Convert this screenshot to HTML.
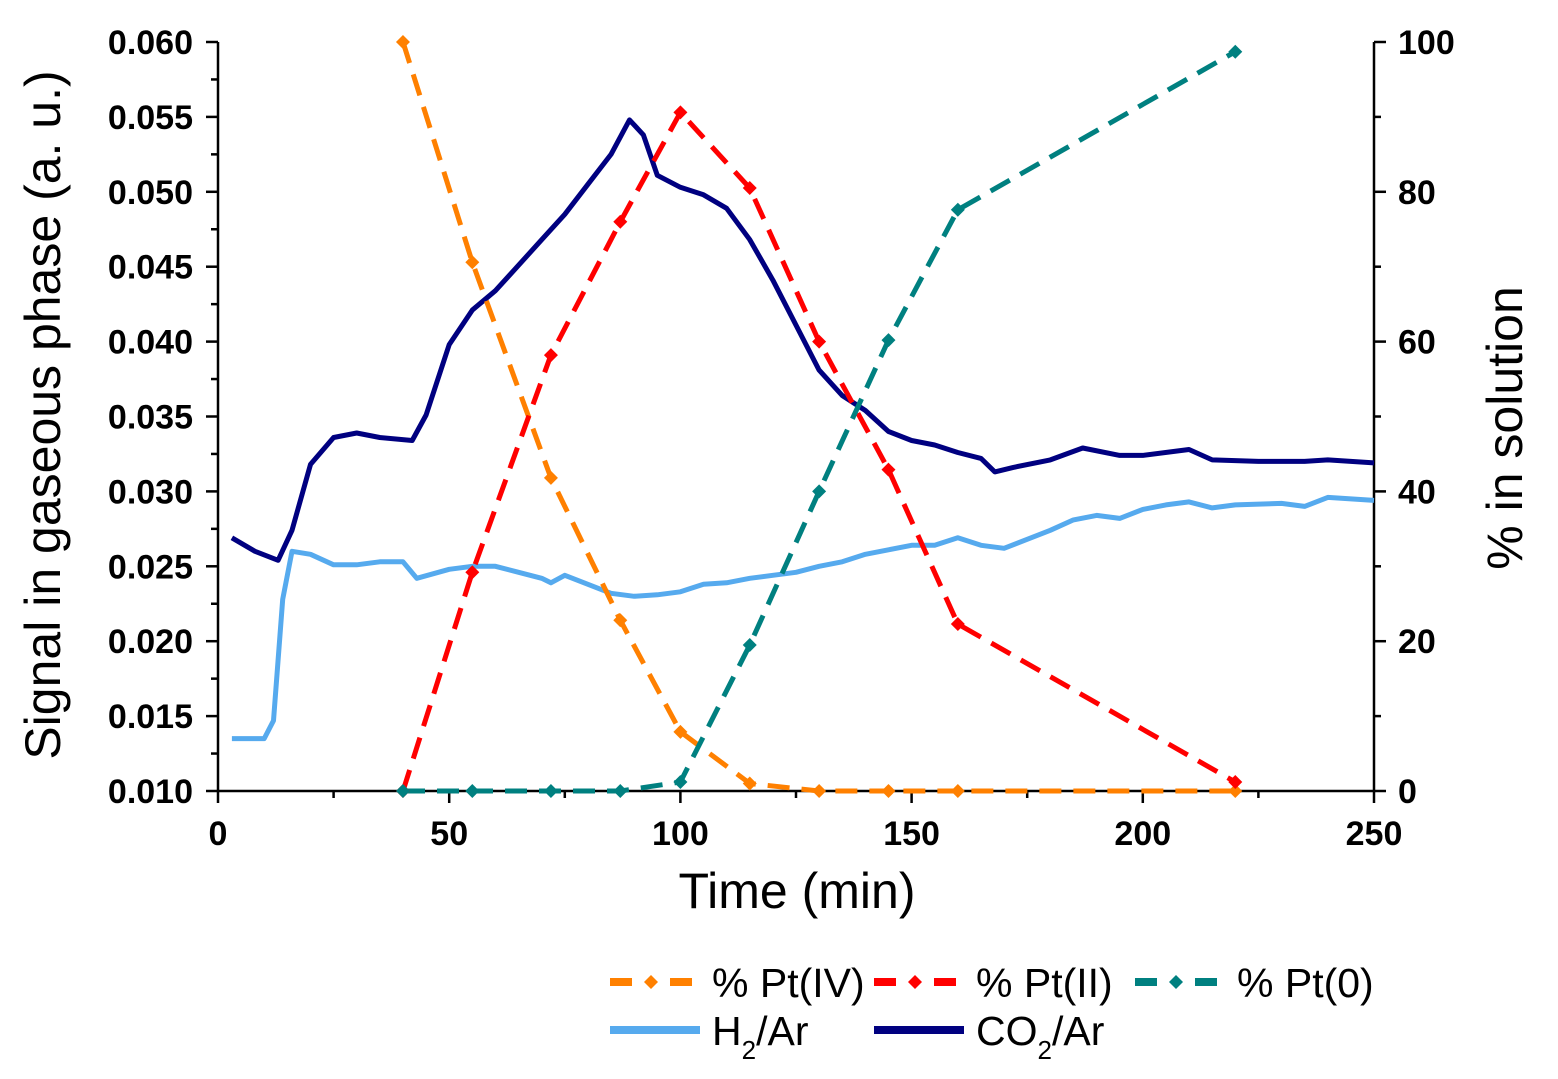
<!DOCTYPE html>
<html><head><meta charset="utf-8"><style>
body{margin:0;background:#fff;}
svg text{font-family:"Liberation Sans",Arial,sans-serif;}
</style></head><body>
<svg id="c" width="1558" height="1074" xmlns="http://www.w3.org/2000/svg"></svg>
<script>
const pctX=[40,55,72,87,100,115,130,145,160,220];
const ptIV=[100,70.6,41.8,22.8,7.9,1,0,0,0,0];
const ptII=[0,29.2,58.2,76,90.6,80.5,60,42.9,22.3,1.2];
const pt0=[0,0,0,0,1.2,19.5,40,60.2,77.6,98.7];
const co2T=[3,8,13,16,20,25,30,35,42,45,50,55,60,65,70,75,80,85,89,92,95,100,105,110,115,120,125,130,135,140,145,150,155,160,165,168,172,180,187,195,200,210,215,225,235,240,250];
const co2V=[0.0269,0.0260,0.0254,0.0274,0.0318,0.0336,0.0339,0.0336,0.0334,0.0351,0.0398,0.0421,0.0434,0.0451,0.0468,0.0485,0.0505,0.0525,0.0548,0.0538,0.0511,0.0503,0.0498,0.0489,0.0468,0.0441,0.0411,0.0381,0.0364,0.0354,0.0340,0.0334,0.0331,0.0326,0.0322,0.0313,0.0316,0.0321,0.0329,0.0324,0.0324,0.0328,0.0321,0.0320,0.0320,0.0321,0.0319];
const h2T=[3,10,12,14,16,20,25,30,35,40,43,50,55,60,65,70,72,75,80,85,90,95,100,105,110,115,120,125,130,135,140,145,150,155,160,165,170,175,180,185,190,195,200,205,210,215,220,230,235,240,250];
const h2V=[0.0135,0.0135,0.0147,0.0228,0.0260,0.0258,0.0251,0.0251,0.0253,0.0253,0.0242,0.0248,0.0250,0.0250,0.0246,0.0242,0.0239,0.0244,0.0238,0.0232,0.0230,0.0231,0.0233,0.0238,0.0239,0.0242,0.0244,0.0246,0.0250,0.0253,0.0258,0.0261,0.0264,0.0264,0.0269,0.0264,0.0262,0.0268,0.0274,0.0281,0.0284,0.0282,0.0288,0.0291,0.0293,0.0289,0.0291,0.0292,0.0290,0.0296,0.0294];
const xTicks=[0,50,100,150,200,250];
const yTicks=[0.010,0.015,0.020,0.025,0.030,0.035,0.040,0.045,0.050,0.055,0.060];
const rTicks=[0,20,40,60,80,100];

const X0=218,X1=1374,YB=791,YT=42;
const sx=v=>X0+(v/250)*(X1-X0);
const sy=v=>YB-(v-0.010)/0.05*(YB-YT);
const sr=v=>YB-v/100*(YB-YT);
const svg=document.getElementById('c');
const NS='http://www.w3.org/2000/svg';
function el(t,a,p){const e=document.createElementNS(NS,t);for(const k in a)e.setAttribute(k,a[k]);(p||svg).appendChild(e);return e;}
function txt(s,x,y,a){const e=el('text',Object.assign({x:x,y:y},a));e.textContent=s;return e;}

let ax=el('path',{d:`M${X0},${YT}V${YB}H${X1}V${YT}`,stroke:'#000','stroke-width':2.5,fill:'none'});


for(let v=0;v<=250;v+=25){const x=sx(v);const major=v%50===0;
 el('line',{x1:x,x2:x,y1:YB,y2:YB+(major?12:7),stroke:'#000','stroke-width':2.5});}
xTicks.forEach(v=>{const t=txt(v,sx(v),845,{'font-size':34,'font-weight':'bold','text-anchor':'middle'});
 
 });
for(let i=0;i<=20;i++){const v=0.010+i*0.0025;const y=sy(v);const major=i%2===0;
 el('line',{x1:X0-(major?12:7),x2:X0,y1:y,y2:y,stroke:'#000','stroke-width':2.5});}
yTicks.forEach(v=>{const t=txt(v.toFixed(3),193,sy(v)+12,{'font-size':34,'font-weight':'bold','text-anchor':'end'});
 
 });
for(let v=0;v<=100;v+=10){const y=sr(v);const major=v%20===0;
 el('line',{x1:X1,x2:X1+(major?12:7),y1:y,y2:y,stroke:'#000','stroke-width':2.5});}
rTicks.forEach(v=>{const t=txt(v,1398,sr(v)+12,{'font-size':34,'font-weight':'bold'});
 
 });
let xt=txt('Time (min)',797,908,{'font-size':50,'text-anchor':'middle'});


let yt=txt('Signal in gaseous phase (a. u.)',0,0,{'font-size':50,'text-anchor':'middle',transform:'translate(60,415) rotate(-90)'});


let rt=txt('% in solution',0,0,{'font-size':50,'text-anchor':'middle',transform:'translate(1522,428) rotate(-90)'});



function line(ts,vs,f,color,name,dash){
 const d=ts.map((t,i)=>(i?'L':'M')+sx(t).toFixed(1)+','+f(vs[i]).toFixed(1)).join('');
 const p=el('path',{d:d,stroke:color,'stroke-width':5,fill:'none','stroke-linejoin':'round'});
 if(dash)p.setAttribute('stroke-dasharray',dash);
 
 
}
function markers(ts,vs,color,name){
 ts.forEach((t,i)=>{const x=sx(t),y=sr(vs[i]);
  const m=el('path',{d:`M${x},${y-7}L${x+7},${y}L${x},${y+7}L${x-7},${y}Z`,fill:color});
  
  });
}
line(h2T,h2V,sy,'#56aaee','h2-ar-line');
line(co2T,co2V,sy,'#000080','co2-ar-line');
line(pctX,ptIV,sr,'#ff8000','pt-iv-line','22 12');
line(pctX,ptII,sr,'#ff0000','pt-ii-line','22 12');
line(pctX,pt0,sr,'#008080','pt-0-line','22 12');
markers(pctX,ptIV,'#ff8000','pt-iv-marker');
markers(pctX,ptII,'#ff0000','pt-ii-marker');
markers(pctX,pt0,'#008080','pt-0-marker');

function leg(x,y,color,label,dashed,name,sub){
 const g=el('g',{});
 
 
 if(dashed){el('rect',{x:x,y:y-4,width:22,height:8,fill:color},g);el('rect',{x:x+60,y:y-4,width:22,height:8,fill:color},g);
  el('path',{d:`M${x+41},${y-7}L${x+48},${y}L${x+41},${y+7}L${x+34},${y}Z`,fill:color},g);}
 else el('rect',{x:x,y:y-4,width:90,height:8,fill:color},g);
 const t=el('text',{x:x+102,y:y+15,'font-size':41},g);
 if(sub){t.appendChild(document.createTextNode(sub[0]));const s=el('tspan',{'font-size':26,dy:14},t);s.textContent=sub[1];const r=el('tspan',{dy:-14},t);r.textContent=sub[2];}
 else t.textContent=label;
}
leg(610,982,'#ff8000','% Pt(IV)',true,'legend-pt-iv');
leg(874,982,'#ff0000','% Pt(II)',true,'legend-pt-ii');
leg(1135,982,'#008080','% Pt(0)',true,'legend-pt-0');
leg(610,1030,'#56aaee','',false,'legend-h2',['H','2','/Ar']);
leg(874,1030,'#000080','',false,'legend-co2',['CO','2','/Ar']);
</script>
</body></html>
